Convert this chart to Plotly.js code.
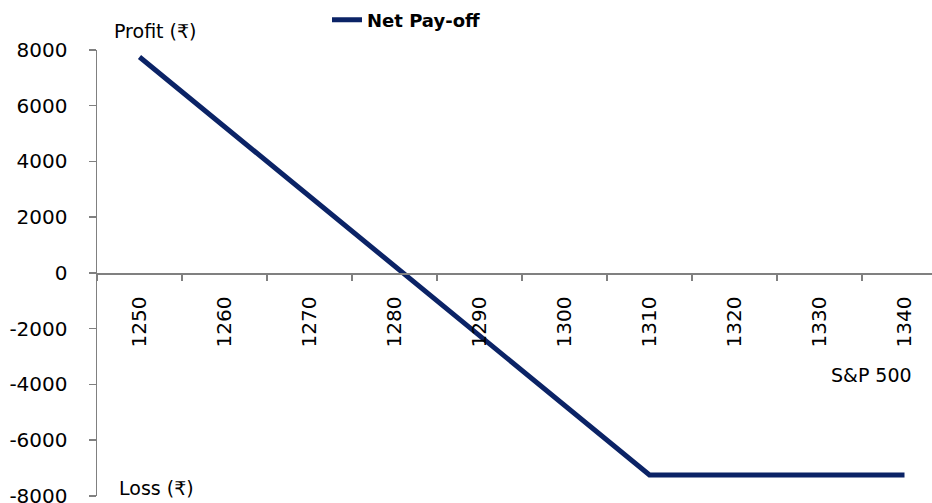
<!DOCTYPE html>
<html>
<head>
<meta charset="utf-8">
<script src="https://cdn.plot.ly/plotly-3.0.1.min.js"></script>
<style>html,body{margin:0;padding:0;background:#fff;}#chart{width:932px;height:503px;}</style>
</head>
<body>
<div id="chart"></div>
<script>
const levels = ["1250","1260","1270","1280","1290","1300","1310","1320","1330","1340"];
const netPayoff = [7750, 5250, 2750, 250, -2250, -4750, -7250, -7250, -7250, -7250];
const yTicks = [-8000, -6000, -4000, -2000, 0, 2000, 4000, 6000, 8000];

const W = 932, H = 503, L = 97, R = 0, T = 50, B = 7;
const pw = W - L - R, ph = H - T - B;
const px = x => (x - L) / pw;
const py = y => (H - B - y) / ph;

const trace = {
  x: levels, y: netPayoff, type: 'scatter', mode: 'lines', name: 'Net Pay-off',
  line: {color: '#0b2366', width: 5}
};

const layout = {
  width: W, height: H,
  margin: {l: L, r: R, t: T, b: B, pad: 0},
  paper_bgcolor: '#fff', plot_bgcolor: '#fff',
  font: {family: 'DejaVu Sans, Verdana, sans-serif', color: '#000', size: 20},
  showlegend: true,
  legend: {
    orientation: 'h', x: px(327), xanchor: 'left', y: py(20), yanchor: 'middle',
    font: {size: 18, weight: 'bold', color: '#000'}, bgcolor: 'rgba(0,0,0,0)'
  },
  xaxis: {
    type: 'category', range: [-0.5, -0.5 + pw / 85],
    anchor: 'free', position: 0.5,
    showline: true, linecolor: '#808080', linewidth: 1.5,
    ticks: 'outside', tickson: 'boundaries', ticklen: 6, tickcolor: '#808080', tickwidth: 1.5,
    tickangle: -90, tickfont: {size: 20}, ticklabelstandoff: 14,
    showgrid: false, zeroline: false, fixedrange: true
  },
  yaxis: {
    range: [-8005, 8000], tickvals: yTicks, ticktext: yTicks.map(String),
    showline: true, linecolor: '#808080', linewidth: 1.5,
    ticks: 'outside', ticklen: 7, tickcolor: '#808080', tickwidth: 1.5,
    tickfont: {size: 20}, ticklabelstandoff: 17, ticklabeloverflow: 'allow',
    showgrid: false, zeroline: false, fixedrange: true
  },
  annotations: [
    {text: 'Profit (₹)', xref: 'paper', yref: 'paper', x: px(112), y: py(31), xanchor: 'left', yanchor: 'middle', showarrow: false, font: {size: 19}},
    {text: 'Loss (₹)', xref: 'paper', yref: 'paper', x: px(117), y: py(488), xanchor: 'left', yanchor: 'middle', showarrow: false, font: {size: 19}},
    {text: 'S&amp;P 500', xref: 'paper', yref: 'paper', x: px(914), y: py(375), xanchor: 'right', yanchor: 'middle', showarrow: false, font: {size: 19}}
  ]
};

Plotly.newPlot('chart', [trace], layout, {staticPlot: true, displayModeBar: false});
</script>
</body>
</html>
